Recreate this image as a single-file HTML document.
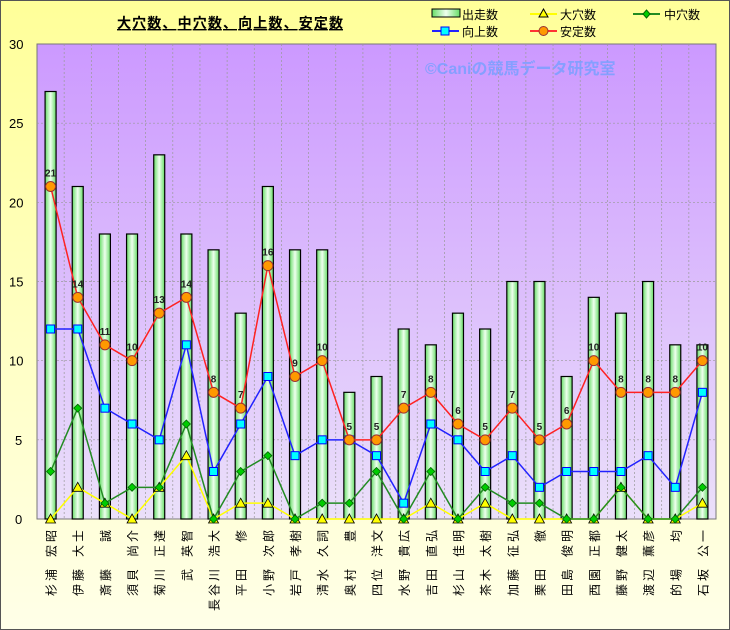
<!DOCTYPE html>
<html><head><meta charset="utf-8"><style>
body{margin:0;width:730px;height:630px;overflow:hidden}
svg{display:block;font-family:"Liberation Sans","Noto Sans CJK JP",sans-serif}
</style></head><body>
<svg id="s" width="730" height="630" xmlns="http://www.w3.org/2000/svg">
<defs>
<linearGradient id="bg" x1="0" y1="0" x2="0" y2="1"><stop offset="0" stop-color="#ffff99"/><stop offset="1" stop-color="#ffffe8"/></linearGradient>
<linearGradient id="pl" x1="0" y1="0" x2="0" y2="1"><stop offset="0" stop-color="#cc99ff"/><stop offset="1" stop-color="#ebe0fa"/></linearGradient>
<linearGradient id="bar" x1="0" y1="0" x2="1" y2="0"><stop offset="0" stop-color="#66dd66"/><stop offset="0.5" stop-color="#eeffee"/><stop offset="1" stop-color="#66dd66"/></linearGradient>
</defs>
<rect x="0.5" y="0.5" width="729" height="629" fill="url(#bg)" stroke="#555"/>
<rect x="37" y="44" width="679" height="475" fill="url(#pl)" stroke="#777"/>
<g id="g"></g>
<text x="117" y="28" font-size="14" font-weight="bold" fill="#000" text-decoration="underline" textLength="226" style="font-family:'Noto Sans CJK JP',sans-serif">大穴数、中穴数、向上数、安定数</text>
<text x="425" y="74" font-size="16" font-weight="bold" fill="#7aa0ff" opacity="0.85">©Caniの競馬データ研究室</text>
<g font-size="12" fill="#000">
<rect x="432" y="9" width="28" height="8" fill="url(#bar)" stroke="#000"/><text x="462" y="19">出走数</text>
<line x1="530" y1="14" x2="557" y2="14" stroke="#ffff00" stroke-width="2"/><polygon points="543.5,9 539,17 548,17" fill="#ff0" stroke="#000"/><text x="560" y="19">大穴数</text>
<line x1="633" y1="14" x2="660" y2="14" stroke="#228b22" stroke-width="2"/><polygon points="646.5,10 650,14 646.5,18 643,14" fill="#0c0" stroke="#060"/><text x="664" y="19">中穴数</text>
<line x1="432" y1="31" x2="459" y2="31" stroke="#2222ff" stroke-width="2"/><rect x="441" y="27" width="8" height="8" fill="#00ffff" stroke="#00f"/><text x="462" y="36">向上数</text>
<line x1="530" y1="31" x2="557" y2="31" stroke="#ff3333" stroke-width="2"/><circle cx="543.5" cy="31" r="4.5" fill="#ff9900" stroke="#933"/><text x="560" y="36">安定数</text>
</g>
</svg>
<script>
const N=["杉浦 宏昭","伊藤 大士","斎藤 誠","須貝 尚介","菊川 正達","武 英智","長谷川 浩大","平田 修","小野 次郎","岩戸 孝樹","清水 久詞","奥村 豊","四位 洋文","水野 貴広","吉田 直弘","杉山 佳明","茶木 太樹","加藤 征弘","栗田 徹","田島 俊明","西園 正都","藤野 健太","渡辺 薫彦","的場 均","石坂 公一"];
const R=[27,21,18,18,23,18,17,13,21,17,17,8,9,12,11,13,12,15,15,9,14,13,15,11,11];
const A=[0,2,1,0,2,4,0,1,1,0,0,0,0,0,1,0,1,0,0,0,0,2,0,0,1];
const C=[3,7,1,2,2,6,0,3,4,0,1,1,3,0,3,0,2,1,1,0,0,2,0,0,2];
const U=[12,12,7,6,5,11,3,6,9,4,5,5,4,1,6,5,3,4,2,3,3,3,4,2,8];
const S=[21,14,11,10,13,14,8,7,16,9,10,5,5,7,8,6,5,7,5,6,10,8,8,8,10];
const L=37,W=679/25,T=44,B=519,y=v=>B-v*(B-T)/30,x=i=>L+W*(i+.5);
let h='';
for(let i=1;i<25;i++)h+=`<line x1="${L+W*i}" y1="${T}" x2="${L+W*i}" y2="${B}" stroke="#999" stroke-dasharray="2,2" stroke-width="0.7"/>`;
for(let v=0;v<=30;v+=5){if(v>0&&v<30)h+=`<line x1="${L}" y1="${y(v)}" x2="716" y2="${y(v)}" stroke="#999" stroke-dasharray="2,2" stroke-width="0.7"/>`;h+=`<text x="${v<10?15:9}" y="${y(v)+5}" font-size="13">${v}</text>`;}
R.forEach((v,i)=>h+=`<rect x="${x(i)-5.5}" y="${y(v)}" width="11" height="${B-y(v)}" fill="url(#bar)" stroke="#000" stroke-width="1.2"/>`);
const pl=(d,c)=>`<polyline fill="none" stroke="${c}" stroke-width="1.5" points="${d.map((v,i)=>x(i)+','+y(v)).join(' ')}"/>`;
h+=pl(A,'#ffff00')+pl(C,'#228b22')+pl(U,'#2222ff')+pl(S,'#ff2222');
A.forEach((v,i)=>h+=`<polygon points="${x(i)},${y(v)-5} ${x(i)-5},${y(v)+4} ${x(i)+5},${y(v)+4}" fill="#ff0" stroke="#000" stroke-width="0.8"/>`);
C.forEach((v,i)=>h+=`<polygon points="${x(i)},${y(v)-4} ${x(i)+4},${y(v)} ${x(i)},${y(v)+4} ${x(i)-4},${y(v)}" fill="#0c0" stroke="#060" stroke-width="0.8"/>`);
U.forEach((v,i)=>h+=`<rect x="${x(i)-4}" y="${y(v)-4}" width="8" height="8" fill="#00ffff" stroke="#00f"/>`);
S.forEach((v,i)=>h+=`<circle cx="${x(i)}" cy="${y(v)}" r="5" fill="#ff9900" stroke="#933"/><text x="${x(i)}" y="${y(v)-10}" font-size="10" font-weight="bold" text-anchor="middle" fill="#222">${v}</text>`);
N.forEach((n,i)=>{const[a,b]=n.split(' ');const cx=x(i)+5;
 h+=`<text font-size="12" letter-spacing="3" text-anchor="end" transform="translate(${cx},527) rotate(-90)">${b}</text>`;
 h+=`<text font-size="12" letter-spacing="3" text-anchor="end" transform="translate(${cx},566) rotate(-90)">${a}</text>`;});
document.getElementById('g').innerHTML=h;
</script>
</body></html>
